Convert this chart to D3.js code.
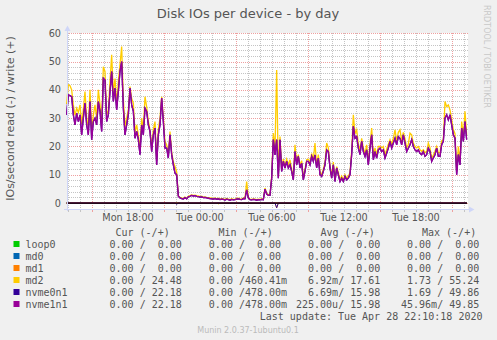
<!DOCTYPE html>
<html>
<head>
<meta charset="utf-8">
<script src="https://d3js.org/d3.v7.min.js"></script>
<style>
  body { margin: 0; background: #f0f0f0; }
  text { font-family: "DejaVu Sans", sans-serif; fill: #555; }
  .mono { font-family: "DejaVu Sans Mono", monospace; font-size: 10px; white-space: pre; }
</style>
</head>
<body>
<div id="chart"></div>
<script>
// samples, one every 500 s from Mon 12:53:20
const start = new Date(2020, 3, 27, 12, 53, 20);
const stepSec = 500;

const md2Write = [
  35, 41.8, 41.5, 40, 34.7, 31, 33.5, 32, 34.7, 28,
  33, 39.4, 30, 27, 40, 26, 31, 34.7, 30, 40,
  35, 28, 48.2, 46.5, 31, 32.9, 43, 52.4, 39, 44,
  35, 43, 49, 55.3, 37, 27, 30, 33, 41.2, 37,
  35.3, 25, 27.6, 24, 19, 30, 26, 37.6, 34, 29,
  25.9, 20, 26, 28.8, 15, 26, 30, 37.6, 30, 21.8,
  20.5, 17, 25.3, 18, 14.5, 12.9, 11, 2.6, 2.0, 1.8,
  1.6, 2.1, 1.7, 2.4, 2.6, 2.9, 2.7, 2.8, 2.6, 2.5,
  2.3, 2.4, 2.1, 2.2, 2.0, 1.9, 1.8, 1.7, 1.6, 1.8,
  1.5, 1.7, 1.4, 1.6, 1.5, 1.3, 1.6, 1.4, 1.2, 1.5,
  1.3, 1.4, 1.6, 1.7, 1.5, 1.4, 1.8, 1.7, 7.6, 2.0,
  1.4, 1.3, 1.5, 1.4, 1.2, 1.4, 1.3, 1.5, 1.4, 5.3,
  3.5, 3.0, 3.0, 9.5, 24.7, 18.8, 47, 10, 23.5, 12,
  15.5, 13.2, 15.5, 13.5, 15.3, 12, 9, 20.6, 14.5, 17.1,
  13.2, 15, 9, 12, 15.3, 15.5, 14.5, 17.5, 15.5, 21.2,
  13.2, 17.1, 11, 10, 12, 14.5, 21.2, 19.5, 13.2, 9.5,
  14.5, 8.2, 12.9, 10.8, 8.2, 9.5, 8.2, 10, 8.8, 9.5,
  10.8, 18.5, 31.2, 24.5, 25.9, 21, 18.5, 22.9, 19.5, 17.5,
  20.6, 14.5, 20.8, 26.5, 16.5, 19.5, 17, 20, 20, 19.5,
  20, 17, 19, 20.8, 22.4, 20.8, 22.8, 25.9, 22, 25,
  25.9, 22, 25, 22.8, 19.5, 20.8, 24.7, 24.1, 21.2, 20,
  19.5, 20, 18.8, 18.3, 18.8, 17.8, 18.3, 21.2, 19.5, 15.8,
  17, 18.3, 20, 17.8, 17.8, 22, 22.4, 35.9, 34.1, 34.7,
  32.9, 29.5, 26, 24.5, 11, 20, 14.5, 28.8, 23.5, 32.4, 24
];

const nvme1n1Write = [
  31.2, 38.2, 38, 37.6, 31.2, 27.6, 31.8, 28.8, 31.2, 24.1,
  30, 35.3, 27.6, 24.1, 35.9, 22.4, 28.8, 30, 27.6, 35.9,
  32.4, 25.3, 44.1, 43.5, 28.8, 31.2, 39.4, 46.5, 35.9, 40.6,
  32.9, 39.4, 46.5, 50, 33.5, 24.1, 27.6, 31.2, 40.6, 34.7,
  32.4, 22.9, 25.3, 22.4, 17.1, 27.6, 24.1, 33.5, 32.4, 27.6,
  25.3, 18.2, 24.1, 26.5, 13.5, 24.1, 27.6, 37.1, 28.8, 19.4,
  19.4, 15.9, 24.1, 17.1, 13.5, 10.6, 10, 2.4, 1.8, 1.6,
  1.4, 1.9, 1.5, 2.2, 2.4, 2.7, 2.5, 2.6, 2.4, 2.3,
  2.1, 2.2, 1.9, 2.0, 1.8, 1.7, 1.6, 1.5, 1.4, 1.6,
  1.3, 1.5, 1.2, 1.4, 1.3, 1.1, 1.4, 1.2, 1.0, 1.3,
  1.1, 1.2, 1.4, 1.5, 1.3, 1.2, 1.6, 1.5, 4.7, 1.8,
  1.2, 1.1, 1.3, 1.2, 1.0, 1.2, 1.1, 1.3, 1.2, 4.9,
  3.2, 2.7, 2.7, 8.8, 22.4, 17, 22.4, 8.8, 22.4, 11.2,
  14.7, 12.4, 14.7, 12.4, 13.5, 11.2, 8.2, 18.2, 13.5, 16.5,
  12.4, 14.1, 8.2, 11.2, 14.7, 14.7, 13.5, 16.5, 14.7, 17,
  12.4, 15.9, 10, 9.4, 11.2, 13.5, 18.8, 18.2, 12.4, 8.8,
  13.5, 7.6, 12.4, 10, 7.6, 8.8, 7.6, 9.4, 8.2, 8.8,
  10, 17.1, 27.1, 22.9, 23.5, 19.4, 17.1, 21.8, 18.2, 16.5,
  18.8, 13.5, 19.4, 24.1, 15.3, 18.2, 15.9, 18.8, 19.4, 18.2,
  18.8, 15.9, 17.6, 19.4, 21.8, 19.4, 21.2, 22.9, 20.6, 23.5,
  22.9, 20.6, 24.1, 21.2, 18.2, 19.4, 20.6, 22.4, 20, 18.8,
  18.2, 18.8, 17.6, 17.1, 18.2, 16.5, 17.1, 19.4, 18.2, 14.7,
  15.9, 17.1, 19.4, 16.5, 16.5, 20.6, 21.8, 30, 31.2, 29.4,
  31.2, 27.6, 24.1, 22.9, 10, 17.1, 13.5, 26.5, 21.8, 28.8, 22.4
];
// nvme0n1 writes are the same as nvme1n1 (hidden under it)
const nvme0n1Write = nvme1n1Write;

// reads are 0 except these samples: [sample index, value]
const md2ReadPeaks = [[91, 0.3], [126, 1.73]];
const nvme0n1ReadPeaks = [[66, 0.4], [126, 1.69]];
const nvme1n1ReadPeaks = [[126, 0.05]];

const names = ["loop0", "md0", "md1", "md2", "nvme0n1", "nvme1n1"];
const colors = ["#00cc00", "#0066b3", "#ff8000", "#ffcc00", "#330099", "#990099"];
const curCol = [["0.00","0.00"],["0.00","0.00"],["0.00","0.00"],["0.00","24.48"],["0.00","22.18"],["0.00","22.18"]];
const minCol = [["0.00","0.00"],["0.00","0.00"],["0.00","0.00"],["0.00","460.41m"],["0.00","478.00m"],["0.00","478.00m"]];
const avgCol = [["0.00","0.00"],["0.00","0.00"],["0.00","0.00"],["6.92m","17.61"],["6.69m","15.98"],["225.00u","15.98"]];
const maxCol = [["0.00","0.00"],["0.00","0.00"],["0.00","0.00"],["1.73","55.24"],["1.69","49.86"],["45.96m","49.85"]];
const yTicks = [0, 10, 20, 30, 40, 50, 60];

var W = 497, H = 340;
var svg = d3.select("#chart").append("svg")
  .attr("width", W).attr("height", H)
  .style("background", "#f0f0f0");

var x = d3.scaleTime()
  .domain([new Date(2020, 3, 27, 12, 55), new Date(2020, 3, 28, 22, 15)])
  .range([67, 467]);
var y = d3.scaleLinear().domain([-2.1, 60]).range([209, 33.3]);

function t(i) { return new Date(start.getTime() + i * stepSec * 1000); }
function readSeries(peaks) {
  var s = md2Write.map(function() { return 0; });
  peaks.forEach(function(p) { s[p[0]] = p[1]; });
  return s;
}

// canvas
svg.append("rect").attr("x", 67).attr("y", 33).attr("width", 401).attr("height", 176).attr("fill", "#fff");

var minorCol = "#c4c4c4", majorCol = "#eea0a0";
// horizontal grid
var g = svg.append("g").attr("shape-rendering", "crispEdges");
d3.range(-2, 61, 2).forEach(function(v) {
  var major = v % 10 == 0;
  g.append("line")
    .attr("x1", 67).attr("x2", 468)
    .attr("y1", Math.round(y(v)) + 0.5).attr("y2", Math.round(y(v)) + 0.5)
    .attr("stroke", major ? majorCol : minorCol)
    .attr("stroke-dasharray", "1,1");
});
// vertical grid, every hour, red every 6h (03,09,15,21)
d3.timeHour.range(x.domain()[0], x.domain()[1]).forEach(function(d) {
  var major = d.getHours() % 6 == 3;
  var xx = Math.round(x(d)) + 0.5;
  g.append("line")
    .attr("x1", xx).attr("x2", xx).attr("y1", 33).attr("y2", 209)
    .attr("stroke", major ? majorCol : minorCol)
    .attr("stroke-dasharray", "1,1");
  g.append("line")
    .attr("x1", xx).attr("x2", xx).attr("y1", 209).attr("y2", 212)
    .attr("stroke", major ? majorCol : minorCol);
});

// series
var line = d3.line().x(function(d, i) { return x(t(i)); }).y(function(d) { return y(d); });
var zero = md2Write.map(function() { return 0; });
var series = [
  [zero, zero, colors[0]],
  [zero, zero, colors[1]],
  [zero, zero, colors[2]],
  [readSeries(md2ReadPeaks), md2Write, colors[3]],
  [readSeries(nvme0n1ReadPeaks), nvme0n1Write, colors[4]],
  [readSeries(nvme1n1ReadPeaks), nvme1n1Write, colors[5]]
];
series.forEach(function(s) {
  svg.append("path").attr("d", line(s[0].map(function(v) { return -v; })))
    .attr("fill", "none").attr("stroke", s[2]).attr("stroke-width", 1);
  svg.append("path").attr("d", line(s[1]))
    .attr("fill", "none").attr("stroke", s[2]).attr("stroke-width", 1.3);
});

// zero line
svg.append("line").attr("x1", 67).attr("x2", 467).attr("y1", y(0)).attr("y2", y(0))
  .attr("stroke", "#000").attr("stroke-width", 1.2);

// axes
var axisCol = "#cfd6f8";
svg.append("line").attr("x1", 67.5).attr("x2", 67.5).attr("y1", 211).attr("y2", 30).attr("stroke", axisCol);
svg.append("line").attr("x1", 64).attr("x2", 470).attr("y1", 209.5).attr("y2", 209.5).attr("stroke", axisCol);
svg.append("path").attr("d", "M64.5,31 L67.5,25.5 L70.5,31 Z").attr("fill", axisCol);
svg.append("path").attr("d", "M469,206.5 L474.5,209.5 L469,212.5 Z").attr("fill", axisCol);

// tick labels
yTicks.forEach(function(v) {
  svg.append("text").attr("x", 61).attr("y", y(v) + 3.6)
    .attr("text-anchor", "end").style("font-size", "9.7px").text(v);
});
d3.timeHour.every(6).range(x.domain()[0], x.domain()[1]).forEach(function(d) {
  svg.append("text").attr("x", x(d)).attr("y", 221)
    .attr("text-anchor", "middle").style("font-size", "9.7px")
    .text(d3.timeFormat("%a %H:%M")(d));
});

// title and labels
svg.append("text").attr("x", 248).attr("y", 17.5).attr("text-anchor", "middle")
  .style("font-size", "13px").text("Disk IOs per device - by day");
svg.append("text").attr("transform", "translate(13.5,118.5) rotate(-90)")
  .attr("text-anchor", "middle").style("font-size", "11px")
  .text("IOs/second read (-) / write (+)");
svg.append("text").attr("transform", "translate(484,5) rotate(90)")
  .style("font-size", "8px").style("fill", "#c8c8c8")
  .text("RRDTOOL / TOBI OETIKER");

// legend
function field(v) {
  var u = /[mu]$/.test(v) ? v.slice(-1) : " ";
  var n = u == " " ? v : v.slice(0, -1);
  return n.padStart(6) + u;
}
var colX = [97.5, 196.8, 296, 395];
var heads = ["Cur (-/+)", "Min (-/+)", "Avg (-/+)", "Max (-/+)"];
var headX = [115.5, 218.5, 320.5, 422];
heads.forEach(function(h, k) {
  svg.append("text").attr("class", "mono").attr("x", headX[k]).attr("y", 236).text(h);
});
names.forEach(function(n, r) {
  var yy = 248 + r * 12;
  svg.append("rect").attr("x", 13.5).attr("y", yy - 7).attr("width", 6).attr("height", 6)
    .attr("fill", colors[r]);
  svg.append("text").attr("class", "mono").attr("x", 25.5).attr("y", yy).text(n);
  [curCol, minCol, avgCol, maxCol].forEach(function(col, k) {
    svg.append("text").attr("class", "mono").attr("x", colX[k]).attr("y", yy)
      .text(field(col[r][0]) + "/" + field(col[r][1]));
  });
});
svg.append("text").attr("class", "mono").attr("x", 482.5).attr("y", 320)
  .attr("text-anchor", "end").text("Last update: Tue Apr 28 22:10:18 2020");
svg.append("text").attr("x", 248).attr("y", 333).attr("text-anchor", "middle")
  .style("font-size", "8px").style("fill", "#bbb").text("Munin 2.0.37-1ubuntu0.1");
</script>
</body>
</html>
